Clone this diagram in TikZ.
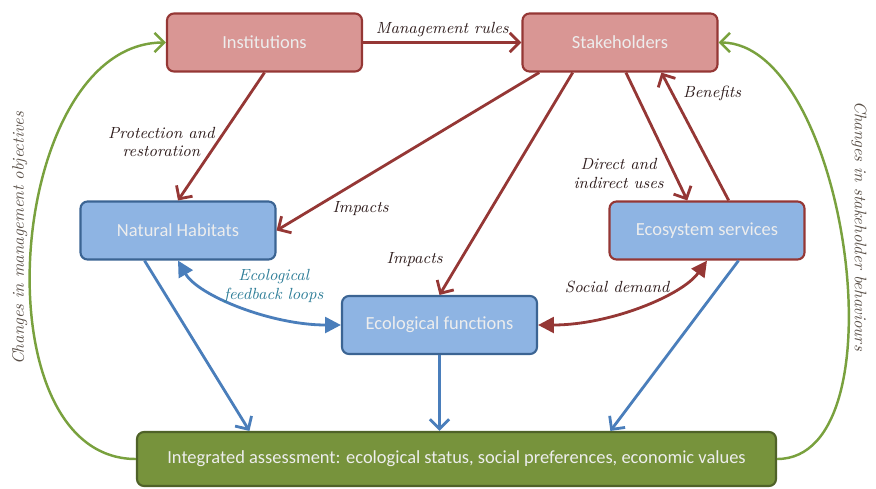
\documentclass[tikz,border=0pt]{standalone}
\usepackage{fontspec}
\newfontfamily\boxfont{Carlito}
\usetikzlibrary{arrows.meta,positioning,calc}
\definecolor{redfill}{HTML}{D99694}
\definecolor{redline}{HTML}{953735}
\definecolor{bluefill}{HTML}{8EB4E3}
\definecolor{blueline}{HTML}{3B6493}
\definecolor{bluearrow}{HTML}{4A7EBB}
\definecolor{greenfill}{HTML}{77933C}
\definecolor{greenline}{HTML}{4F6228}
\definecolor{greenarrow}{HTML}{79A13E}
\definecolor{lbltext}{HTML}{2E1C1C}
\definecolor{fbltext}{HTML}{2F7E98}
\definecolor{sidetext}{HTML}{5A5048}
\tikzset{
  caja/.style={rectangle, rounded corners=4pt, line width=1.2pt, align=center,
               minimum width=3.9cm, minimum height=1.16cm, text=white!93!black,
               font=\boxfont\fontsize{10.5}{12}\selectfont},
  redbox/.style={caja, fill=redfill, draw=redline},
  bluebox/.style={caja, fill=bluefill, draw=blueline},
  greenbox/.style={caja, fill=greenfill, draw=greenline, minimum width=12.78cm,
                   minimum height=1.08cm},
  redarr/.style={draw=redline, line width=1.6pt, -{Straight Barb[length=5.5pt,width=11pt]}},
  bluearr/.style={draw=bluearrow, line width=1.6pt, -{Straight Barb[length=5.5pt,width=11pt]}},
  greenarr/.style={draw=greenarrow, line width=1.4pt, -{Straight Barb[length=5.5pt,width=11pt]}},
  reddbl/.style={draw=redline, line width=1.6pt,
                 {Triangle[length=9pt,width=9pt]}-{Triangle[length=9pt,width=9pt]}},
  bluedbl/.style={draw=bluearrow, line width=1.6pt,
                  {Triangle[length=9pt,width=9pt]}-{Triangle[length=9pt,width=9pt]}},
  lbl/.style={font=\fontsize{9.2}{10.4}\selectfont\itshape, text=lbltext, inner sep=1pt, align=center},
  fbl/.style={lbl, text=fbltext},
  sidelbl/.style={font=\fontsize{9.5}{11}\selectfont\itshape, text=sidetext, inner sep=2pt}
}
\begin{document}
\begin{tikzpicture}[x=0.2mm, y=-0.2mm]
\useasboundingbox (0,0) rectangle (876,488);

\node[redbox] (inst) at (264.5,42.5) {Institutions};
\node[redbox] (stake) at (620,42.5) {Stakeholders};
\node[bluebox] (habitats) at (178,230.5) {Natural Habitats};
\node[bluebox, draw=redline] (services) at (707,230.5) {Ecosystem services};
\node[bluebox] (functions) at (439.5,325) {Ecological functions};
\node[greenbox] (assess) at (456.5,459) {Integrated assessment: ecological status, social preferences, economic values};

\coordinate (s1) at ($(stake.south west)!0.09!(stake.south east)$);
\coordinate (s2) at ($(stake.south west)!0.26!(stake.south east)$);
\coordinate (s3) at ($(stake.south west)!0.53!(stake.south east)$);
\coordinate (s4) at ($(stake.south west)!0.71!(stake.south east)$);
\coordinate (e1) at ($(services.north west)!0.40!(services.north east)$);
\coordinate (e2) at ($(services.north west)!0.61!(services.north east)$);
\coordinate (e3) at ($(services.south west)!0.66!(services.south east)$);
\coordinate (h1) at ($(habitats.south west)!0.33!(habitats.south east)$);
\coordinate (a1) at ($(assess.north west)!0.177!(assess.north east)$);
\coordinate (a3) at ($(assess.north west)!0.74!(assess.north east)$);

\draw[redarr] (inst.east) -- node[lbl, above=0.6mm]{Management rules} (stake.west);
\draw[redarr] (inst.south) -- node[lbl, left, pos=0.54]{Protection and\\restoration} (habitats.north);
\draw[redarr] (s1) -- node[lbl, pos=0.68, yshift=-5.8mm]{Impacts} (habitats.east);
\draw[redarr] (s2) -- node[lbl, pos=0.84, left=3mm]{Impacts} (functions.north);
\draw[redarr] (s3) -- node[lbl, pos=0.79, left=1.5mm]{Direct and\\indirect uses} (e1);
\draw[redarr] (e2) -- node[lbl, pos=0.835, right=1.5mm]{Benefits} (s4);

\draw[bluedbl] (habitats.south) .. controls +(20,35) and +(-70,0) .. node[fbl, pos=0.5, xshift=6.6mm, yshift=4mm]{Ecological\\feedback loops} (functions.west);
\draw[reddbl] (functions.east) .. controls +(72,0) and +(-25,35) .. node[lbl, pos=0.5, xshift=-4.6mm, yshift=3.8mm]{Social demand} (services.south);

\draw[bluearr] (h1) -- (a1);
\draw[bluearr] (functions.south) -- (functions.south |- assess.north);
\draw[bluearr] (e3) -- (a3);

\draw[greenarr] (assess.west) .. controls +(-160,0) and +(-160,0) .. node[sidelbl, pos=0.52, rotate=90, anchor=south]{Changes in management objectives} (inst.west);
\draw[greenarr] (assess.east) .. controls +(128,0) and +(128,0) .. (stake.east);
\node[sidelbl, rotate=-90] (behaviours) at (859,226) {Changes in stakeholder behaviours};
\end{tikzpicture}
\end{document}
